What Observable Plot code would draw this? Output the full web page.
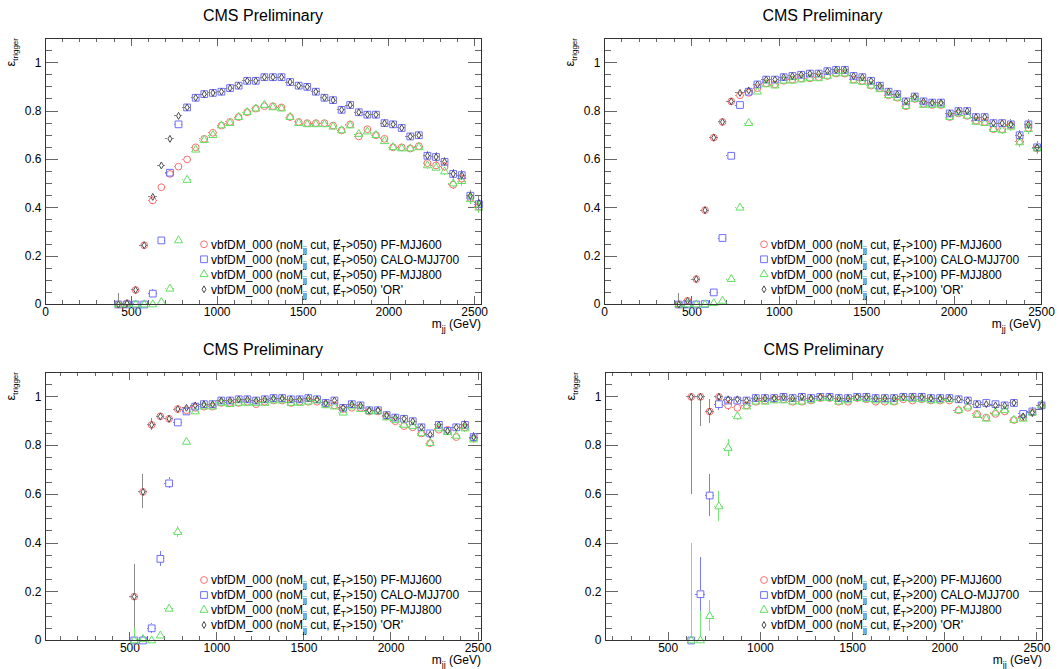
<!DOCTYPE html>
<html><head><meta charset="utf-8">
<script src="https://cdn.jsdelivr.net/npm/d3@7"></script>
<script src="https://cdn.jsdelivr.net/npm/@observablehq/plot@0.6"></script>
<style>
html,body{margin:0;padding:0;background:#fff;}
#root{position:relative;width:1059px;height:669px;overflow:hidden;background:#fff;}
#root svg{position:absolute;}
</style></head><body><div id="root"></div>
<script>
// ---------------- data ----------------
const binsTL = [425,475,525,575,625,675,725,775,825,875,925,975,1025,1075,1125,1175,1225,1275,1325,1375,1425,1475,1525,1575,1625,1675,1725,1775,1825,1875,1925,1975,2025,2075,2125,2175,2225,2275,2325,2375,2425,2475,2525];
const binsTR = [425,475,525,575,625,675,725,775,825,875,925,975,1025,1075,1125,1175,1225,1275,1325,1375,1425,1475,1525,1575,1625,1675,1725,1775,1825,1875,1925,1975,2025,2075,2125,2175,2225,2275,2325,2375,2425,2475];
const binsBL = [525,575,625,675,725,775,825,875,925,975,1025,1075,1125,1175,1225,1275,1325,1375,1425,1475,1525,1575,1625,1675,1725,1775,1825,1875,1925,1975,2025,2075,2125,2175,2225,2275,2325,2375,2425,2475];
const binsBR = [625,675,725,775,825,875,925,975,1025,1075,1125,1175,1225,1275,1325,1375,1425,1475,1525,1575,1625,1675,1725,1775,1825,1875,1925,1975,2025,2075,2125,2175,2225,2275,2325,2375,2425,2475,2525];

// MET > 050
const tlRed   = [0,0.005,0.06,0.245,0.43,0.485,0.54,0.57,0.6,0.65, 0.685,0.71,0.74,0.755,0.775,0.795,0.81,0.82,0.82,0.815, 0.775,0.755,0.75,0.75,0.75,0.74,0.72,0.745,0.695,0.725, 0.70,0.685,0.65,0.65,0.645,0.655,0.585,0.575,0.57,0.495, 0.52,0.44,0.405];
const tlBlue  = [0,0,0,0,0.045,0.265,0.545,0.745,0.815,0.855, 0.87,0.875,0.88,0.895,0.905,0.925,0.925,0.94,0.94,0.94, 0.92,0.905,0.90,0.88,0.855,0.845,0.805,0.825,0.795,0.785, 0.785,0.75,0.745,0.73,0.695,0.70,0.615,0.61,0.59,0.54, 0.535,0.45,0.415];
const tlGreen = [0,0,0,0,0,0.01,0.065,0.265,0.515,0.64, 0.68,0.70,0.74,0.75,0.775,0.795,0.81,0.825,0.815,0.81, 0.775,0.75,0.745,0.745,0.745,0.735,0.72,0.74,0.705,0.715, 0.70,0.675,0.65,0.645,0.645,0.65,0.575,0.565,0.55,0.50, 0.51,0.435,0.40];
const tlOr    = [0,0.005,0.06,0.245,0.445,0.575,0.685,0.78,0.815,0.855, 0.87,0.875,0.88,0.895,0.905,0.925,0.925,0.94,0.94,0.94, 0.92,0.905,0.90,0.88,0.855,0.845,0.805,0.825,0.795,0.785, 0.785,0.75,0.745,0.73,0.695,0.70,0.615,0.61,0.59,0.54, 0.535,0.45,0.42];
const tlErr   = [0.045,0.015,0.012,0.015,0.015,0.014,0.012,0.011,0.01,0.009, 0.008,0.008,0.008,0.008,0.008,0.007,0.007,0.007,0.007,0.008, 0.008,0.008,0.008,0.009,0.009,0.009,0.01,0.01,0.011,0.011, 0.012,0.012,0.013,0.013,0.014,0.015,0.016,0.017,0.018,0.019, 0.021,0.023,0.025];

// MET > 100
const trRed   = [0,0.015,0.105,0.39,0.69,0.755,0.84,0.865,0.875,0.895, 0.915,0.91,0.925,0.93,0.935,0.935,0.94,0.945,0.955,0.955, 0.93,0.925,0.905,0.895,0.865,0.855,0.82,0.85,0.83,0.825, 0.825,0.775,0.79,0.78,0.76,0.755,0.725,0.725,0.74,0.675, 0.73,0.645];
const trBlue  = [0,0,0,0.002,0.05,0.275,0.615,0.825,0.88,0.91, 0.93,0.93,0.94,0.945,0.95,0.955,0.955,0.965,0.97,0.97, 0.945,0.94,0.925,0.905,0.88,0.87,0.84,0.86,0.84,0.835, 0.835,0.79,0.8,0.8,0.775,0.775,0.75,0.75,0.745,0.70, 0.745,0.65];
const trGreen = [0,0,0,0,0.005,0.015,0.105,0.40,0.75,0.88, 0.91,0.905,0.925,0.925,0.93,0.935,0.935,0.945,0.955,0.955, 0.925,0.92,0.905,0.89,0.865,0.855,0.82,0.85,0.825,0.825, 0.825,0.775,0.79,0.78,0.755,0.75,0.725,0.72,0.735,0.67, 0.725,0.645];
const trOr    = [0,0.015,0.105,0.39,0.69,0.755,0.84,0.875,0.885,0.91, 0.93,0.93,0.94,0.945,0.95,0.955,0.955,0.965,0.97,0.97, 0.945,0.94,0.925,0.905,0.88,0.87,0.84,0.86,0.84,0.835, 0.835,0.79,0.8,0.8,0.775,0.775,0.75,0.75,0.745,0.70, 0.745,0.65];
const trErr   = [0.045,0.012,0.012,0.015,0.013,0.012,0.01,0.009,0.008,0.007, 0.007,0.007,0.006,0.006,0.006,0.006,0.006,0.006,0.006,0.006, 0.007,0.007,0.007,0.008,0.008,0.009,0.009,0.01,0.01,0.01, 0.011,0.012,0.012,0.013,0.014,0.015,0.016,0.017,0.018,0.02, 0.022,0.024];

// MET > 150
const blRed   = [0.18,0.61,0.885,0.92,0.91,0.95,0.945, 0.955,0.96,0.96,0.975,0.975,0.975,0.98,0.97,0.98,0.985,0.985,0.975,0.98,0.98,0.98,0.97,0.965,0.95,0.955,0.955,0.94,0.94,0.92,0.9,0.88,0.875,0.85,0.81,0.865,0.865,0.835,0.875,0.83];
const blBlue  = [0,0,0.05,0.335,0.645,0.895,0.94, 0.96,0.97,0.97,0.985,0.985,0.99,0.99,0.985,0.99,0.995,0.995,0.99,0.99,0.995,0.99,0.975,0.985,0.955,0.97,0.965,0.945,0.945,0.925,0.915,0.91,0.9,0.875,0.85,0.885,0.86,0.875,0.885,0.835];
const blGreen = [0,0.005,0,0.02,0.13,0.445,0.815, 0.94,0.96,0.96,0.975,0.97,0.975,0.975,0.975,0.975,0.985,0.985,0.975,0.975,0.98,0.985,0.965,0.96,0.935,0.96,0.95,0.94,0.94,0.915,0.905,0.885,0.88,0.85,0.81,0.87,0.855,0.84,0.87,0.825];
const blOr    = [0.18,0.61,0.885,0.92,0.91,0.95,0.955, 0.965,0.97,0.97,0.985,0.985,0.99,0.99,0.985,0.99,0.995,0.995,0.99,0.99,0.995,0.99,0.975,0.985,0.955,0.97,0.965,0.945,0.945,0.925,0.915,0.91,0.9,0.875,0.845,0.885,0.86,0.875,0.885,0.835];
const blErrTail  = [0.008,0.007,0.007,0.006,0.006,0.005,0.005,0.005,0.005,0.005, 0.005,0.005,0.005,0.005,0.005,0.006,0.006,0.007,0.007,0.007, 0.008,0.008,0.009,0.01,0.01,0.011,0.012,0.013,0.014,0.015, 0.016,0.017,0.018];
const blErrRed   = [0.13,0.07,0.025,0.015,0.015,0.01,0.01].concat(blErrTail);
const blErrBlue  = [0.02,0.02,0.02,0.03,0.022,0.012,0.01].concat(blErrTail);
const blErrGreen = [0.1,0.015,0.01,0.01,0.015,0.022,0.015].concat(blErrTail);

// MET > 200
const brRed   = [1,1,0.94,1,0.965,0.955, 0.965,0.98,0.985,0.99,0.99,0.98,0.98,0.985,0.995,0.995,0.98,0.98,0.995,0.99,0.98,0.98,0.98,0.99,0.985,0.99,0.985,0.985,0.985,0.945,0.955,0.93,0.915,0.93,0.94,0.905,0.915,0.935,0.965];
const brBlue  = [0,0.19,0.595,0.97,0.985,0.985, 0.985,0.995,0.995,0.995,1,0.995,1,0.995,1,1,0.995,0.995,1,1,0.995,0.995,0.995,1,1,1,0.995,0.995,0.995,0.99,0.985,0.97,0.975,0.97,0.965,0.975,0.93,0.94,0.965];
const brGreen = [0,0,0.1,0.55,0.79,0.92, 0.96,0.98,0.98,0.985,0.985,0.98,0.98,0.985,0.995,0.995,0.98,0.985,0.995,0.99,0.985,0.985,0.98,0.995,0.99,0.99,0.985,0.985,0.99,0.945,0.96,0.925,0.91,0.935,0.945,0.905,0.91,0.935,0.965];
const brOr    = [1,1,0.94,1,0.99,0.99, 0.985,0.995,0.995,0.995,1,0.995,1,0.995,1,1,0.995,0.995,1,1,0.995,0.995,0.995,1,1,1,0.995,0.995,0.995,0.99,0.985,0.97,0.97,0.965,0.965,0.975,0.92,0.935,0.965];
const brErrTail  = [0.01,0.008,0.007,0.006,0.005,0.005,0.005,0.005,0.005,0.005, 0.005,0.005,0.005,0.005,0.005,0.005,0.006,0.006,0.006,0.007, 0.007,0.008,0.008,0.009,0.01,0.011,0.012,0.013,0.014,0.015, 0.016,0.018,0.02];
const brErrRed   = [0.4,0.12,0.05,0.02,0.02,0.015].concat(brErrTail);
const brErrBlue  = [0.05,0.15,0.085,0.025,0.012,0.01].concat(brErrTail);
const brErrGreen = [0.4,0.12,0.065,0.06,0.035,0.015].concat(brErrTail);

const metCuts = ["050","100","150","200"];
const seriesNames = ["PF-MJJ600","CALO-MJJ700","PF-MJJ800","'OR'"];
const xTickValues = [0,500,1000,1500,2000,2500];
const yTickValues = [0,0.2,0.4,0.6,0.8,1];
const yTickLabels = ["0","0.2","0.4","0.6","0.8","1"];
const halfBin = 25;

// ---------------- styles / layout ----------------
const FONT = "'Liberation Sans', Arial, Helvetica, sans-serif";
const tickColor = "#666";
const frameColor = "#333";
const yMax = 1.1;
const seriesStyle = [
  {symbol:"circle",   r:3.4, color:"#ff6e6e", err:"#ff7a7a", hx:3.4, hy:3.4},
  {symbol:"square",   r:3.8, color:"#6e6eff", err:"#7a7aff", hx:3.4, hy:3.4},
  {symbol:"triangle", r:3.0, color:"#62e062", err:"#74e874", hx:3.7, hy:3.3},
  {symbol:"diamond",  r:2.1, color:"#4a4a4a", err:"#8a8a8a", hx:2.1, hy:3.5}
];
const layouts = {
  TL:{left:0,   top:0,   width:529, height:334, ml:45, mr:48, mt:38, mb:30, legX:204},
  TR:{left:529, top:0,   width:530, height:334, ml:75, mr:18, mt:38, mb:30, legX:235},
  BL:{left:0,   top:334, width:529, height:335, ml:45, mr:48, mt:38, mb:29, legX:204},
  BR:{left:529, top:334, width:530, height:335, ml:76, mr:17, mt:38, mb:29, legX:235}
};
const panels = [
  {key:"TL", met:metCuts[0], bins:binsTL, vals:[tlRed,tlBlue,tlGreen,tlOr], errs:[tlErr,tlErr,tlErr,tlErr], xdomain:[0,2540]},
  {key:"TR", met:metCuts[1], bins:binsTR, vals:[trRed,trBlue,trGreen,trOr], errs:[trErr,trErr,trErr,trErr], xdomain:[0,2500]},
  {key:"BL", met:metCuts[2], bins:binsBL, vals:[blRed,blBlue,blGreen,blOr], errs:[blErrRed,blErrBlue,blErrGreen,blErrRed], xdomain:[15,2520]},
  {key:"BR", met:metCuts[3], bins:binsBR, vals:[brRed,brBlue,brGreen,brOr], errs:[brErrRed,brErrBlue,brErrGreen,brErrRed], xdomain:[160,2530]}
];

function drawPanel(p) {
  const L = layouts[p.key];
  const fw = L.width - L.ml - L.mr, fh = L.height - L.mt - L.mb;
  const pyUnit = fh / yMax;
  const rows = [];
  p.vals.forEach((vals, s) => vals.forEach((v, i) => {
    const e = p.errs[s][i] ?? 0.01;
    const x = p.bins[i];
    rows.push({s, x, y: v, lo: Math.max(0, v - e), hi: Math.min(1, v + e), xl: x - halfBin, xh: x + halfBin});
  }));
  const [d0, d1] = p.xdomain;
  const xMaj = xTickValues.filter(t => t >= d0 && t <= d1);
  const xMin = d3.range(0, 2600, 100).filter(t => t >= d0 && t <= d1 && t % 500 !== 0);
  const yMin = d3.range(0, 22).map(k => k * 0.05).filter(t => Math.abs(t / 0.2 - Math.round(t / 0.2)) > 1e-6);
  const crisp = "crispEdges";

  const marks = [
    Plot.ruleX(xMin, {x: d => d, insetTop: fh - 4, stroke: tickColor, shapeRendering: crisp}),
    Plot.ruleX(xMin, {x: d => d, insetBottom: fh - 4, stroke: tickColor, shapeRendering: crisp}),
    Plot.ruleX(xMaj, {x: d => d, insetTop: fh - 8, stroke: tickColor, shapeRendering: crisp}),
    Plot.ruleX(xMaj, {x: d => d, insetBottom: fh - 8, stroke: tickColor, shapeRendering: crisp}),
    Plot.ruleY(yMin, {y: d => d, insetRight: fw - 6.5, stroke: tickColor, shapeRendering: crisp}),
    Plot.ruleY(yMin, {y: d => d, insetLeft: fw - 6.5, stroke: tickColor, shapeRendering: crisp}),
    Plot.ruleY(yTickValues, {y: d => d, insetRight: fw - 13, stroke: tickColor, shapeRendering: crisp}),
    Plot.ruleY(yTickValues, {y: d => d, insetLeft: fw - 13, stroke: tickColor, shapeRendering: crisp}),
    Plot.axisX({ticks: xMaj, anchor: "bottom", tickSize: 0, tickPadding: 3, tickFormat: d => String(d), label: null, fontSize: 12}),
    Plot.axisY({ticks: yTickValues, anchor: "left", tickSize: 0, tickPadding: 4, tickFormat: d => yTickLabels[yTickValues.indexOf(d)], label: null, fontSize: 12})
  ];
  seriesStyle.forEach((st, s) => {
    const d = rows.filter(r => r.s === s);
    marks.push(
      Plot.ruleX(d.filter(r => (r.hi - r.y) * pyUnit > st.hy), {x: "x", y1: "hi", y2: "y", insetBottom: st.hy, stroke: st.err, clip: true, shapeRendering: crisp}),
      Plot.ruleX(d.filter(r => (r.y - r.lo) * pyUnit > st.hy), {x: "x", y1: "y", y2: "lo", insetTop: st.hy, stroke: st.err, clip: true, shapeRendering: crisp}),
      Plot.ruleY(d, {y: "y", x1: "xl", x2: "x", insetRight: st.hx, stroke: st.err, clip: true, shapeRendering: crisp}),
      Plot.ruleY(d, {y: "y", x1: "x", x2: "xh", insetLeft: st.hx, stroke: st.err, clip: true, shapeRendering: crisp}),
      Plot.dot(d, {x: "x", y: "y", symbol: st.symbol, r: st.r, stroke: st.color, fill: "none", strokeWidth: 1})
    );
  });
  marks.push(Plot.frame({stroke: frameColor, shapeRendering: crisp}));

  const svg = Plot.plot({
    width: L.width, height: L.height,
    marginLeft: L.ml, marginRight: L.mr, marginTop: L.mt, marginBottom: L.mb,
    x: {domain: p.xdomain, axis: null},
    y: {domain: [0, yMax], axis: null},
    style: {fontFamily: FONT, fontSize: "12px", color: "#000", background: "transparent", overflow: "visible"},
    marks
  });
  svg.style.left = L.left + "px";
  svg.style.top = L.top + "px";
  const g = d3.select(svg).append("g").attr("font-family", FONT).attr("fill", "#000").attr("text-anchor", "start");

  // title
  g.append("text").attr("x", L.ml + fw / 2).attr("y", 21).attr("text-anchor", "middle")
    .attr("font-size", 16).text("CMS Preliminary");

  // x label
  const xl = g.append("text").attr("x", L.width - L.mr).attr("y", L.height - L.mb + 24)
    .attr("text-anchor", "end").attr("font-size", 12);
  xl.append("tspan").text("m");
  xl.append("tspan").attr("font-size", 9).attr("dy", 3.5).text("jj");
  xl.append("tspan").attr("dy", -3.5).text(" (GeV)");

  // y label
  const yl = g.append("text").attr("transform", `translate(${L.ml - 30},${L.mt}) rotate(-90)`)
    .attr("text-anchor", "end").attr("font-size", 13);
  yl.append("tspan").text("ε");
  yl.append("tspan").attr("font-size", 8).attr("dy", 3).text("trigger");

  // legend
  const rowY = [L.mt + 206.3, L.mt + 221.3, L.mt + 236.3, L.mt + 251.3];
  seriesStyle.forEach((st, s) => {
    const cy = rowY[s] + (p.key[0] === "B" ? 1.7 : 0);
    const sym = {circle: d3.symbolCircle, square: d3.symbolSquare, triangle: d3.symbolTriangle, diamond: d3.symbolDiamond}[st.symbol];
    g.append("path").attr("d", d3.symbol(sym, Math.PI * st.r * st.r)())
      .attr("transform", `translate(${L.legX},${cy})`).attr("fill", "none").attr("stroke", st.color);
    const t = g.append("text").attr("x", L.legX + 7).attr("y", cy + 4.3).attr("font-size", 12).attr("text-anchor", "start");
    t.append("tspan").text("vbfDM_000 (noM");
    t.append("tspan").attr("font-size", 8.5).attr("dy", 4).text("jj");
    t.append("tspan").attr("dy", -4).text(" cut, Ɇ");
    t.append("tspan").attr("font-size", 8.5).attr("dy", 3).text("T");
    t.append("tspan").attr("dy", -3).text(">" + p.met + ") " + seriesNames[s]);
  });
  document.getElementById("root").appendChild(svg);
}

panels.forEach(drawPanel);
</script>
</body></html>
